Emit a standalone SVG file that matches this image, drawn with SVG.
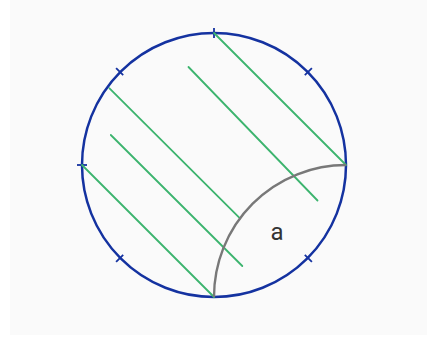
<svg xmlns="http://www.w3.org/2000/svg" width="427" height="341" viewBox="0 0 427 341">
<style>
.bg{fill:#fafafa}
.circ{fill:none;stroke:#1432a0;stroke-width:2.5}
.tick{stroke:#1432a0;stroke-width:1.8}
.hatch{stroke:#3cb46e;stroke-width:1.8;stroke-linecap:round}
.arc{fill:none;stroke:#787878;stroke-width:2.4}
.lbl{font-family:Roboto,"Liberation Sans",Arial,sans-serif;font-size:24px;fill:#333;text-anchor:middle}
</style>
<rect class="bg" x="10" y="0" width="417" height="335"/>
<g id="circle">
<circle class="circ" cx="214" cy="165" r="132"/>
<g id="ticks">
<line class="tick" x1="214" y1="28" x2="214" y2="38"/>
<line class="tick" x1="77" y1="165" x2="87" y2="165"/>
<line class="tick" x1="116.1" y1="68.1" x2="123.2" y2="75.2"/>
<line class="tick" x1="311.9" y1="68.1" x2="304.8" y2="75.2"/>
<line class="tick" x1="116.1" y1="261.9" x2="123.2" y2="254.8"/>
<line class="tick" x1="311.9" y1="261.9" x2="304.8" y2="254.8"/>
</g>
</g>
<g id="connectors">
<line class="hatch" x1="214" y1="33" x2="346" y2="165"/>
<line class="hatch" x1="188.5" y1="67" x2="317.5" y2="200.5"/>
<line class="hatch" x1="109.5" y1="88.3" x2="240" y2="218.3"/>
<line class="hatch" x1="110.8" y1="135" x2="242.3" y2="266"/>
<line class="hatch" x1="82" y1="165" x2="214" y2="297"/>
<path class="arc" d="M214 297 A132 132 0 0 1 346 165"/>
</g>
<g id="label-a">
<text class="lbl" x="277" y="240">a</text>
</g>
</svg>
